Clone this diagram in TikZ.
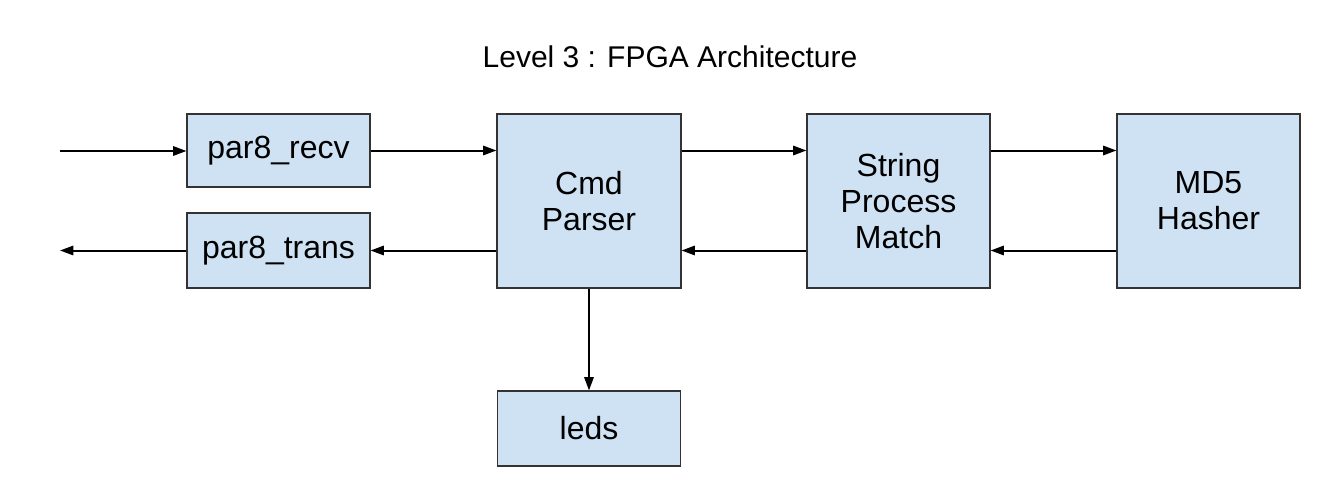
\documentclass[tikz,border=0pt]{standalone}
\usepackage{fontspec}
\setmainfont{Liberation Sans}
\usetikzlibrary{arrows.meta}
\definecolor{boxfill}{HTML}{CFE2F3}
\definecolor{boxline}{HTML}{333333}
\tikzset{
  blk/.style={draw=boxline, line width=0.8pt, fill=boxfill, rectangle, inner sep=0pt,
    minimum width=137.25pt, align=center, font=\fontsize{24}{27}\selectfont},
  arr/.style={line width=1.5pt, -{Triangle[length=10pt,width=7pt]}}
}
\begin{document}
\begin{tikzpicture}[x=0.75pt,y=-0.75pt]
\useasboundingbox (0,0) rectangle (1332,503);
\node[font=\fontsize{22.5}{27}\selectfont] (title) at (670,57) {Level 3 : FPGA Architecture};
\node[blk, minimum height=54.75pt] (recv) at (278.5,150.5) {par8\_recv};
\node[blk, minimum height=56.25pt] (trans) at (278.5,250.5) {par8\_trans};
\node[blk, minimum height=130.5pt, minimum width=138pt] (cmd) at (589,201) {Cmd\\Parser};
\node[blk, minimum height=130.5pt] (str) at (898.5,201) {String\\Process\\Match};
\node[blk, minimum height=130.5pt] (md5) at (1208.5,201) {MD5\\Hasher};
\node[blk, minimum height=56.25pt] (leds) at (589,428.5) {leds};
\coordinate (inL) at (60,151);
\coordinate (outL) at (60,251);
\draw[arr] (inL) -- (inL -| recv.west);
\draw[arr] (recv.east) -- (recv.east -| cmd.west);
\draw[arr] (cmd.east |- recv.east) -- (str.west |- recv.east);
\draw[arr] (str.east |- recv.east) -- (md5.west |- recv.east);
\draw[arr] (md5.west |- trans.east) -- (str.east |- trans.east);
\draw[arr] (str.west |- trans.east) -- (cmd.east |- trans.east);
\draw[arr] (cmd.west |- trans.east) -- (trans.east);
\draw[arr] (trans.west) -- (trans.west -| outL);
\draw[arr] (cmd.south) -- (leds.north);
\end{tikzpicture}
\end{document}
